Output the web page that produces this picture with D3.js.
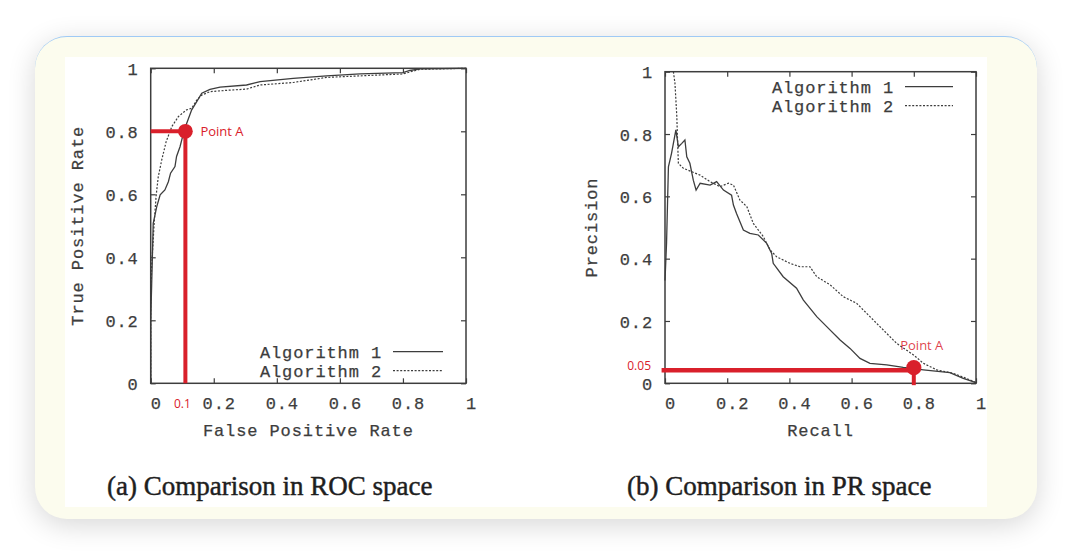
<!DOCTYPE html>
<html>
<head>
<meta charset="utf-8">
<script src="https://cdn.jsdelivr.net/npm/d3@7"></script>
<style>
  html, body { margin: 0; padding: 0; background: #ffffff; width: 1074px; height: 556px; overflow: hidden; }
  #card { position: absolute; left: 35px; top: 36px; width: 1002px; height: 483px; border-radius: 32px;
          background: #fcfcee; border-top: 1.5px solid #9fcaf5; box-sizing: border-box;
          box-shadow: 0 6px 28px rgba(0,0,0,0.16); }
  svg { position: absolute; left: 0; top: 0; }
</style>
</head>
<body>
<div id="card"></div>
<svg id="chart" width="1074" height="556"></svg>
<script>
// ---------- data ----------
const tickValues = [0, 0.2, 0.4, 0.6, 0.8, 1];
const legendLabels = ["Algorithm 1", "Algorithm 2"];
const captions = ["(a) Comparison in ROC space", "(b) Comparison in PR space"];
const rocAxisTitles = ["False Positive Rate", "True Positive Rate"];
const prAxisTitles = ["Recall", "Precision"];

// ROC curves [FPR, TPR]
const rocAlg1 = [[0,0],[0,0.2],[0.003,0.31],[0.008,0.508],[0.019,0.56],[0.03,0.598],[0.045,0.614],[0.056,0.64],
  [0.063,0.667],[0.077,0.688],[0.082,0.72],[0.093,0.751],[0.104,0.794],[0.114,0.825],[0.13,0.868],[0.146,0.894],
  [0.162,0.921],[0.188,0.933],[0.22,0.94],[0.304,0.947],[0.347,0.958],[0.452,0.968],[0.558,0.976],[0.664,0.982],
  [0.80,0.986],[0.822,0.993],[0.854,0.998],[1,1]];
const rocAlg2 = [[0,0],[0,0.25],[0.003,0.37],[0.011,0.508],[0.017,0.593],[0.024,0.656],[0.035,0.709],[0.049,0.767],
  [0.067,0.815],[0.088,0.847],[0.114,0.868],[0.13,0.873],[0.146,0.899],[0.162,0.915],[0.188,0.926],[0.241,0.93],
  [0.304,0.934],[0.347,0.947],[0.452,0.955],[0.558,0.971],[0.664,0.976],[0.80,0.982],[0.854,0.997],[1,1]];

// PR curves [Recall, Precision]
const prAlg1 = [[0,0.33],[0.005,0.45],[0.011,0.695],[0.021,0.738],[0.035,0.813],[0.043,0.759],[0.054,0.77],
  [0.064,0.781],[0.07,0.727],[0.08,0.706],[0.091,0.652],[0.1,0.62],[0.113,0.642],[0.145,0.636],[0.166,0.647],
  [0.188,0.62],[0.214,0.604],[0.22,0.572],[0.23,0.545],[0.252,0.492],[0.273,0.481],[0.30,0.476],[0.327,0.449],
  [0.343,0.417],[0.348,0.385],[0.38,0.342],[0.423,0.305],[0.445,0.267],[0.488,0.214],[0.52,0.182],[0.563,0.139],
  [0.595,0.112],[0.627,0.08],[0.659,0.064],[0.713,0.059],[0.766,0.051],[0.831,0.043],[0.916,0.034],[0.959,0.016],[1,0.002]];
const prAlg2 = [[0.027,1.0],[0.032,0.963],[0.038,0.856],[0.04,0.791],[0.043,0.706],[0.059,0.69],[0.086,0.679],
  [0.113,0.668],[0.145,0.647],[0.177,0.631],[0.204,0.642],[0.22,0.636],[0.241,0.588],[0.263,0.567],[0.284,0.513],
  [0.316,0.471],[0.338,0.428],[0.359,0.406],[0.402,0.385],[0.434,0.374],[0.466,0.374],[0.488,0.342],[0.531,0.316],
  [0.573,0.278],[0.616,0.257],[0.659,0.214],[0.702,0.171],[0.745,0.128],[0.799,0.091],[0.831,0.064],[0.874,0.043],
  [0.927,0.032],[0.981,0.011],[1,0.002]];

// annotations
const rocPointA = [0.11, 0.8];
const rocPointLabel = "Point A";
const rocExtraTick = "0.1";
const prPointA = [0.8, 0.05];
const prPointLabel = "Point A";
const prExtraTick = "0.05";

// ---------- drawing ----------
const svg = d3.select("#chart");
const RED = "#d9202b";
const INK = "#3d3d3d";
const MONO = "'Liberation Mono', 'DejaVu Sans Mono', monospace";
const SANS = "'Open Sans', 'Noto Sans', sans-serif";

// white figure area
svg.append("rect").attr("x", 65).attr("y", 57).attr("width", 922).attr("height", 450).attr("fill", "#ffffff");

function fmt(d) { return (d === 0 || d === 1) ? String(d) : d3.format(".1f")(d); }

function monoStyle(sel) {
  sel.attr("fill", INK).attr("stroke", INK).attr("stroke-width", 0.25)
    .style("font-family", MONO).style("font-size", "17px").style("letter-spacing", "0.9px");
}

function panel(opts) {
  const x = d3.scaleLinear().domain([0, 1]).range(opts.xr);
  const y = d3.scaleLinear().domain([0, 1]).range(opts.yr);
  const g = svg.append("g");

  const styleAxis = (sel) => {
    sel.select(".domain").remove();
    sel.selectAll(".tick line").attr("stroke", INK).attr("stroke-width", 1.2);
    sel.selectAll("text").call(monoStyle);
  };

  g.append("g").attr("transform", `translate(0,${opts.yr[0]})`)
    .call(d3.axisBottom(x).tickValues(tickValues).tickFormat(fmt).tickSize(-5).tickPadding(14))
    .call(styleAxis).selectAll("text").attr("dx", 5);
  g.append("g").attr("transform", `translate(0,${opts.yr[1]})`)
    .call(d3.axisTop(x).tickValues(tickValues).tickFormat("").tickSize(-5)).call(styleAxis);
  g.append("g").attr("transform", `translate(${opts.xr[0]},0)`)
    .call(d3.axisLeft(y).tickValues(tickValues).tickFormat(fmt).tickSize(-5).tickPadding(12))
    .call(styleAxis).selectAll("text").attr("dy", "0.36em");
  g.append("g").attr("transform", `translate(${opts.xr[1]},0)`)
    .call(d3.axisRight(y).tickValues(tickValues).tickFormat("").tickSize(-5)).call(styleAxis);

  // frame
  g.append("rect").attr("x", opts.xr[0]).attr("y", opts.yr[1])
    .attr("width", opts.xr[1] - opts.xr[0]).attr("height", opts.yr[0] - opts.yr[1])
    .attr("fill", "none").attr("stroke", INK).attr("stroke-width", 1.5);

  const line = d3.line().x(d => x(d[0])).y(d => y(d[1]));
  g.append("path").datum(opts.s1).attr("d", line).attr("fill", "none").attr("stroke", INK).attr("stroke-width", 1.3);
  g.append("path").datum(opts.s2).attr("d", line).attr("fill", "none").attr("stroke", INK).attr("stroke-width", 1.2)
    .attr("stroke-dasharray", "2,1.6");

  // axis titles
  const cx = (opts.xr[0] + opts.xr[1]) / 2, cy = (opts.yr[0] + opts.yr[1]) / 2;
  g.append("text").attr("x", cx).attr("y", 430).attr("dy", "0.35em").attr("text-anchor", "middle")
    .call(monoStyle).text(opts.titles[0]);
  g.append("text").attr("transform", `translate(${opts.ylabX},${cy}) rotate(-90)`).attr("dy", "0.35em")
    .attr("text-anchor", "middle").call(monoStyle).text(opts.titles[1]);

  // legend
  const lg = g.append("g");
  legendLabels.forEach((lab, i) => {
    const ly = opts.legY + i * 19;
    lg.append("text").attr("x", opts.legTextEnd).attr("y", ly).attr("dy", "0.35em").attr("text-anchor", "end")
      .call(monoStyle).text(lab);
    lg.append("line").attr("x1", opts.legLine[0]).attr("x2", opts.legLine[1]).attr("y1", ly).attr("y2", ly)
      .attr("stroke", INK).attr("stroke-width", i === 0 ? 1.3 : 1.2).attr("stroke-dasharray", i === 0 ? null : "2,1.6");
  });

  // caption
  g.append("text").attr("x", opts.capX).attr("y", 495).attr("fill", "#1e1e1e").attr("stroke", "#1e1e1e")
    .attr("stroke-width", 0.45)
    .style("font-family", "'Liberation Serif', 'DejaVu Serif', serif").style("font-size", "27px").text(opts.caption);

  return { g, x, y };
}

// ROC panel
const roc = panel({ xr: [150.7, 466], yr: [383.3, 68.3], s1: rocAlg1, s2: rocAlg2, titles: rocAxisTitles,
  ylabX: 77, legY: 351.7, legTextEnd: 382, legLine: [393, 443], caption: captions[0], capX: 107 });
// PR panel
const pr = panel({ xr: [665, 976], yr: [383.3, 71.7], s1: prAlg1, s2: prAlg2, titles: prAxisTitles,
  ylabX: 591, legY: 86.7, legTextEnd: 894, legLine: [905, 953], caption: captions[1], capX: 627 });

// ROC annotation
{
  const { g, x, y } = roc;
  const px = x(rocPointA[0]), py = y(rocPointA[1]);
  g.append("line").attr("x1", x(0)).attr("x2", px).attr("y1", py).attr("y2", py).attr("stroke", RED).attr("stroke-width", 4);
  g.append("line").attr("x1", px).attr("x2", px).attr("y1", py).attr("y2", y(0)).attr("stroke", RED).attr("stroke-width", 4);
  g.append("circle").attr("cx", px).attr("cy", py).attr("r", 7.4).attr("fill", RED);
  g.append("text").attr("x", px + 15).attr("y", py).attr("dy", "0.35em").attr("fill", RED)
    .style("font-family", SANS).style("font-size", "13px").text(rocPointLabel);
  g.append("text").attr("x", px - 3).attr("y", 404).attr("dy", "0.35em").attr("text-anchor", "middle").attr("fill", RED)
    .style("font-family", SANS).style("font-size", "12px").text(rocExtraTick);
}
// PR annotation
{
  const { g, x, y } = pr;
  const px = x(prPointA[0]), py = y(prPointA[1]);
  g.append("line").attr("x1", x(-0.011)).attr("x2", px).attr("y1", py + 2.5).attr("y2", py + 2.5).attr("stroke", RED).attr("stroke-width", 4.5);
  g.append("line").attr("x1", px).attr("x2", px).attr("y1", py).attr("y2", y(-0.006)).attr("stroke", RED).attr("stroke-width", 4);
  g.append("circle").attr("cx", px).attr("cy", py).attr("r", 7.6).attr("fill", RED);
  g.append("text").attr("x", px + 8).attr("y", py - 22).attr("dy", "0.35em").attr("text-anchor", "middle").attr("fill", RED)
    .attr("fill-opacity", 0.85).style("font-family", SANS).style("font-size", "13px").text(prPointLabel);
  g.append("text").attr("x", 651).attr("y", py - 2).attr("dy", "0.35em").attr("text-anchor", "end").attr("fill", RED)
    .style("font-family", SANS).style("font-size", "12px").text(prExtraTick);
}
</script>
</body>
</html>
